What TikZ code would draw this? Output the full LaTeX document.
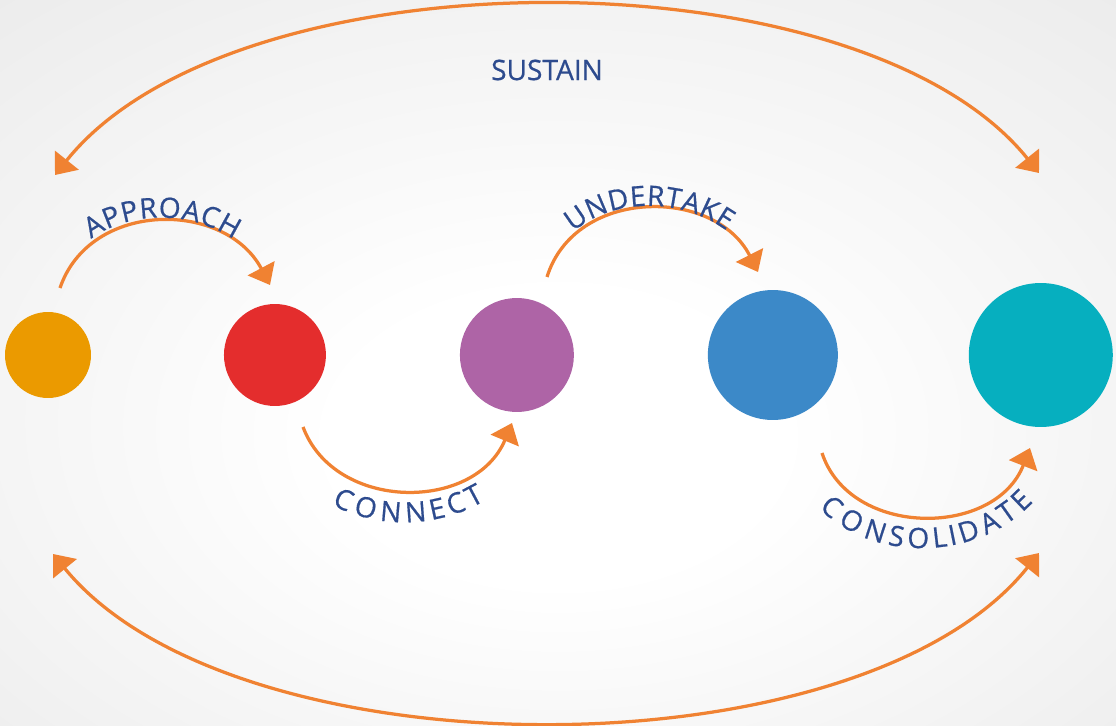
\documentclass[tikz,border=0pt]{standalone}
\usepackage{fontspec}
\setmainfont{Open Sans}
\newfontfamily\arcfamily[FakeBold=0.6]{Open Sans}
\usetikzlibrary{arrows.meta, positioning, decorations.text}

\definecolor{dotOrange}{HTML}{EB9A00}
\definecolor{dotRed}{HTML}{E42D2D}
\definecolor{dotPurple}{HTML}{AE64A6}
\definecolor{dotBlue}{HTML}{3C89C8}
\definecolor{dotTeal}{HTML}{06AFBF}
\definecolor{arrowOrange}{HTML}{F08232}
\definecolor{labelBlue}{HTML}{2D4B8E}
\definecolor{bgEdge}{HTML}{E5E5E5}
\definecolor{bgCorner}{HTML}{DEDEDE}

\pgfdeclareradialshading{backdrop}{\pgfpoint{0bp}{-6bp}}{color(0bp)=(white); color(10bp)=(white); color(48bp)=(bgEdge); color(72bp)=(bgCorner)}

\tikzstyle{stage} = [circle, draw=none, inner sep=0pt]
\tikzstyle{arrow} = [line width=0.065cm, draw=arrowOrange, -{Triangle[length=0.38cm, width=0.6cm]}]
\tikzstyle{twoway} = [{Triangle[length=0.38cm, width=0.6cm]}-{Triangle[length=0.38cm, width=0.6cm]}]
\tikzstyle{arclabel} = [decorate, decoration={text along path, text align=center, text color=labelBlue}]

\newcommand{\arcfont}{\arcfamily\fontsize{16pt}{19pt}\selectfont}

\begin{document}
\begin{tikzpicture}[x=0.02cm, y=-0.02cm, node distance=5cm]

        % Background
        \shade [shading=backdrop] (0,0) rectangle (1116,726);
        \useasboundingbox (0,0) rectangle (1116,726);

        % Nodes for the stages
        \node (circOrange) [stage, fill=dotOrange, minimum size=1.72cm] at (48,355) {};
        \node (circRed) [stage, fill=dotRed, minimum size=2.04cm, right of=circOrange, xshift=-0.46cm] {};
        \node (circPurple) [stage, fill=dotPurple, minimum size=2.28cm, right of=circRed, xshift=-0.16cm] {};
        \node (circBlue) [stage, fill=dotBlue, minimum size=2.6cm, right of=circPurple, xshift=0.12cm] {};
        \node (circTeal) [stage, fill=dotTeal, minimum size=2.88cm, right of=circBlue, xshift=0.36cm] {};

        % Label for the outer loop
        \node (sustainLabel) [text=labelBlue, font=\arcfont] at (547,70) {SUSTAIN};

        % End points of the arcs
        \coordinate (approachStart) at (60,288);
        \coordinate (approachEnd) at (270,285);
        \coordinate (connectStart) at (303,427);
        \coordinate (connectEnd) at (512,423);
        \coordinate (undertakeStart) at (547,277);
        \coordinate (undertakeEnd) at (758,272);
        \coordinate (consolidateStart) at (822,453);
        \coordinate (consolidateEnd) at (1030,448);
        \coordinate (sustainLeft) at (55,175);
        \coordinate (sustainRight) at (1039,173);
        \coordinate (returnLeft) at (53,554);
        \coordinate (returnRight) at (1039,553);

        % Arcs between the stages
        \draw [arrow] (approachStart) .. controls (90,200) and (225,200) .. (approachEnd);
        \draw [arrow] (connectStart) .. controls (335,512) and (475,512) .. (connectEnd);
        \draw [arrow] (undertakeStart) .. controls (575,187) and (715,187) .. (undertakeEnd);
        \draw [arrow] (consolidateStart) .. controls (850,538) and (995,538) .. (consolidateEnd);

        % Labels along the arcs
        \path [arclabel, decoration={text={|\arcfont|APPROACH}, raise=0.08cm}] (approachStart) .. controls (90,200) and (225,200) .. (approachEnd);
        \path [arclabel, decoration={text={|\arcfont|CONNECT}, raise=-0.64cm}] (connectStart) .. controls (335,512) and (475,512) .. (connectEnd);
        \path [arclabel, decoration={text={|\arcfont|UNDERTAKE}, raise=0.06cm}] (undertakeStart) .. controls (575,187) and (715,187) .. (undertakeEnd);
        \path [arclabel, decoration={text={|\arcfont|CONSOLIDATE}, raise=-0.64cm}] (consolidateStart) .. controls (850,538) and (995,538) .. (consolidateEnd);

        % Outer arcs
        \draw [arrow, twoway] (sustainLeft) .. controls (235,-50) and (860,-50) .. (sustainRight);
        \draw [arrow, twoway] (returnLeft) .. controls (235,777) and (860,777) .. (returnRight);

    \end{tikzpicture}
\end{document}
